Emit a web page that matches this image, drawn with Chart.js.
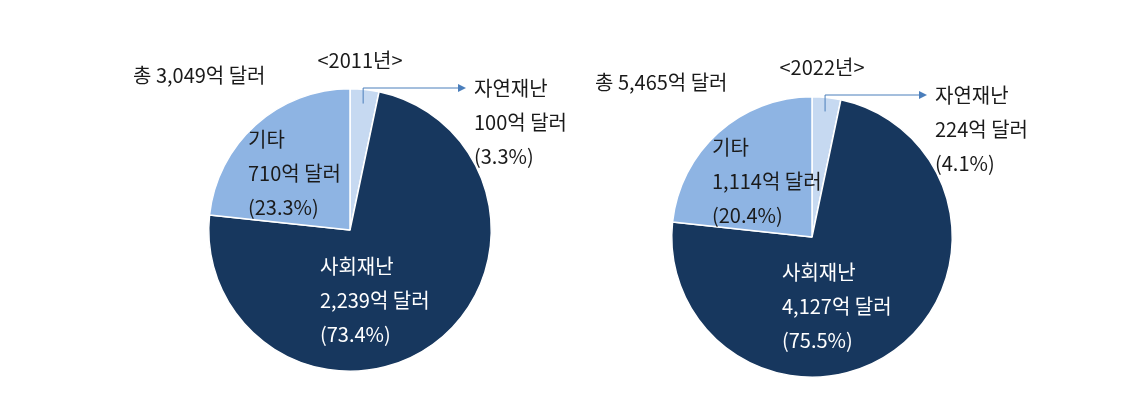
<!DOCTYPE html>
<html>
<head>
<meta charset="utf-8">
<script src="https://cdn.jsdelivr.net/npm/chart.js@4.4.1/dist/chart.umd.min.js"></script>
<style>
    html, body { margin: 0; padding: 0; background: #fff; }
    body { width: 1146px; height: 410px; position: relative; overflow: hidden; }
    .box { position: absolute; top: 0; width: 573px; height: 410px; }
</style>
</head>
<body>
<div class="box" style="left:0"><canvas id="pie2011"></canvas></div>
<div class="box" style="left:573px"><canvas id="pie2022"></canvas></div>
<script>
// data
const categories = ["자연재난", "사회재난", "기타"];
const years = ["2011년", "2022년"];
const values2011 = [100, 2239, 710];
const values2022 = [224, 4127, 1114];
const percent2011 = [3.3, 73.4, 23.3];
const percent2022 = [4.1, 75.5, 20.4];
const totals = [3049, 5465];
// slice sizes as drawn in the original graphic (the 2022 pie reuses the 2011 shape)
const sliceShare2011 = [3.3, 73.4, 23.3];
const sliceShare2022 = [3.3, 73.4, 23.3];

const sliceColors = ["#c6d9f1", "#17375e", "#8eb4e3"];
const FONT = '"Noto Sans CJK KR", "Noto Sans", sans-serif';

function fmt(n) {
    return n.toLocaleString("en-US");
}

// draws title, total and slice labels on top of the pie
const labelPlugin = {
    id: "labels",
    afterDraw(chart) {
        const o = chart.options.plugins.labels;
        const ctx = chart.ctx;
        ctx.save();
        ctx.font = "20px " + FONT;
        ctx.textBaseline = "middle";
        ctx.fillStyle = "#1a1a1a";

        // year title + total
        ctx.textAlign = "center";
        ctx.fillText("<" + o.year + ">", o.title[0], o.title[1]);
        ctx.textAlign = "left";
        ctx.fillText("총 " + fmt(o.total) + "억 달러", o.totalPos[0], o.totalPos[1]);

        // slice text
        o.textPos.forEach((p, i) => {
            ctx.fillStyle = i === 1 ? "#ffffff" : "#1a1a1a";
            const lines = [
                chart.data.labels[i],
                fmt(o.amounts[i]) + "억 달러",
                "(" + o.percents[i] + "%)",
            ];
            lines.forEach((t, k) => ctx.fillText(t, p[0], p[1] + k * o.lineGap));
        });

        // leader line from the small slice
        const arc = chart.getDatasetMeta(0).data[0];
        const mid = (arc.startAngle + arc.endAngle) / 2;
        const sx = arc.x + Math.cos(mid) * arc.outerRadius * 0.9;
        const sy = arc.y + Math.sin(mid) * arc.outerRadius * 0.9;
        const ly = o.leader[1];
        const ex = o.leader[0];
        ctx.strokeStyle = "#4a7ebb";
        ctx.fillStyle = "#4a7ebb";
        ctx.lineWidth = 1;
        ctx.beginPath();
        ctx.moveTo(sx, sy);
        ctx.lineTo(sx, ly);
        ctx.lineTo(ex - 7, ly);
        ctx.stroke();
        ctx.beginPath();
        ctx.moveTo(ex, ly);
        ctx.lineTo(ex - 8, ly - 4);
        ctx.lineTo(ex - 8, ly + 4);
        ctx.closePath();
        ctx.fill();
        ctx.restore();
    },
};

function makePie(id, shares, amounts, percents, year, total, padding, pos) {
    new Chart(document.getElementById(id), {
        type: "pie",
        data: {
            labels: categories,
            datasets: [
                {
                    data: shares,
                    backgroundColor: sliceColors,
                    borderColor: "#ffffff",
                    borderWidth: 1.5,
                },
            ],
        },
        options: {
            responsive: true,
            maintainAspectRatio: false,
            animation: false,
            layout: { padding: padding },
            plugins: {
                legend: { display: false },
                tooltip: { enabled: false },
                labels: Object.assign({ amounts, percents, year, total }, pos),
            },
        },
        plugins: [labelPlugin],
    });
}

makePie("pie2011", sliceShare2011, values2011, percent2011, years[0], totals[0],
    { left: 208, right: 81, top: 88, bottom: 38 },
    {
        title: [360, 60],
        totalPos: [133, 75],
        leader: [466, 88],
        lineGap: 34,
        textPos: [[474, 88], [320, 266], [248, 139]],
    });

makePie("pie2022", sliceShare2022, values2022, percent2022, years[1], totals[1],
    { left: 98, right: 193, top: 96, bottom: 32 },
    {
        title: [249, 67],
        totalPos: [22, 82],
        leader: [354, 95],
        lineGap: 34,
        textPos: [[362, 95], [209, 272], [139, 147]],
    });
</script>
</body>
</html>
